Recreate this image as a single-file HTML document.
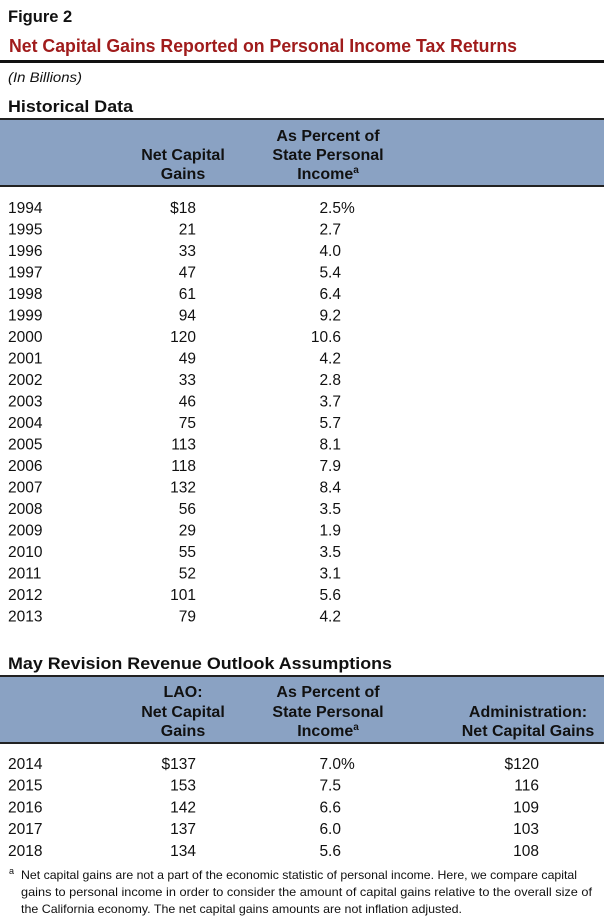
<!DOCTYPE html>
<html><head><meta charset="utf-8"><title>Net Capital Gains</title>
<style>
html,body{margin:0;padding:0;background:#fff;}
svg{display:block;font-family:"Liberation Sans",Arial,sans-serif;}
.row{font-size:15.5px;fill:#111;}
.hdr{font-size:16px;font-weight:bold;fill:#111;}
</style></head>
<body>
<svg id="fig" width="604" height="918" viewBox="0 0 604 918" xmlns="http://www.w3.org/2000/svg">
  <text x="8" y="22" font-size="16.5" font-weight="bold" fill="#111">Figure 2</text>
  <text x="9" y="52" font-size="18" font-weight="bold" fill="#a01c1c" textLength="508" lengthAdjust="spacingAndGlyphs">Net Capital Gains Reported on Personal Income Tax Returns</text>
  <rect x="0" y="60" width="604" height="3" fill="#111"/>
  <text x="8" y="82" font-size="14" font-style="italic" fill="#111" textLength="74" lengthAdjust="spacingAndGlyphs">(In Billions)</text>
  <text x="8" y="112" font-size="16.5" font-weight="bold" fill="#111" textLength="125" lengthAdjust="spacingAndGlyphs">Historical Data</text>

  <rect x="0" y="119" width="604" height="68" fill="#8aa2c3"/>
  <rect x="0" y="118" width="604" height="2" fill="#222"/>
  <rect x="0" y="185" width="604" height="2" fill="#222"/>
  <g class="hdr" text-anchor="middle">
    <text x="183" y="160">Net Capital</text>
    <text x="183" y="179">Gains</text>
    <text x="328" y="141">As Percent of</text>
    <text x="328" y="160">State Personal</text>
    <text x="328" y="179">Income<tspan font-size="10" dy="-6">a</tspan></text>
  </g>
  <g id="histRows" class="row"></g>

  <text x="8" y="669" font-size="16.5" font-weight="bold" fill="#111" textLength="384" lengthAdjust="spacingAndGlyphs">May Revision Revenue Outlook Assumptions</text>
  <rect x="0" y="676" width="604" height="68" fill="#8aa2c3"/>
  <rect x="0" y="675" width="604" height="2" fill="#222"/>
  <rect x="0" y="742" width="604" height="2" fill="#222"/>
  <g class="hdr" text-anchor="middle">
    <text x="183" y="697">LAO:</text>
    <text x="183" y="717">Net Capital</text>
    <text x="183" y="736">Gains</text>
    <text x="328" y="697">As Percent of</text>
    <text x="328" y="717">State Personal</text>
    <text x="328" y="736">Income<tspan font-size="10" dy="-6">a</tspan></text>
    <text x="528" y="717">Administration:</text>
    <text x="528" y="736">Net Capital Gains</text>
  </g>
  <g id="outRows" class="row"></g>

  <g font-size="12" fill="#111">
    <text x="9" y="874" font-size="9">a</text>
    <text x="21" y="879" textLength="556" lengthAdjust="spacingAndGlyphs">Net capital gains are not a part of the economic statistic of personal income. Here, we compare capital</text>
    <text x="21" y="896" textLength="571" lengthAdjust="spacingAndGlyphs">gains to personal income in order to consider the amount of capital gains relative to the overall size of</text>
    <text x="21" y="913" textLength="441" lengthAdjust="spacingAndGlyphs">the California economy. The net capital gains amounts are not inflation adjusted.</text>
  </g>
</svg>
<script>
const histYears = [1994,1995,1996,1997,1998,1999,2000,2001,2002,2003,2004,2005,2006,2007,2008,2009,2010,2011,2012,2013];
const histGains = [18,21,33,47,61,94,120,49,33,46,75,113,118,132,56,29,55,52,101,79];
const histPct = ["2.5","2.7","4.0","5.4","6.4","9.2","10.6","4.2","2.8","3.7","5.7","8.1","7.9","8.4","3.5","1.9","3.5","3.1","5.6","4.2"];
const outYears = [2014,2015,2016,2017,2018];
const outLao = [137,153,142,137,134];
const outPct = ["7.0","7.5","6.6","6.0","5.6"];
const outAdmin = [120,116,109,103,108];

const NS = "http://www.w3.org/2000/svg";
function txt(parent, x, y, s, anchor) {
  const t = document.createElementNS(NS, "text");
  t.setAttribute("x", x);
  t.setAttribute("y", y);
  if (anchor) t.setAttribute("text-anchor", anchor);
  t.textContent = s;
  parent.appendChild(t);
  return t;
}
const hist = document.getElementById("histRows");
histYears.forEach((yr, i) => {
  const base = 213 + i * 21.5;
  const a = txt(hist, 8, base, String(yr));
  
  
  const b = txt(hist, 196, base, (i === 0 ? "$" : "") + histGains[i], "end");
  
  
  const c = txt(hist, 341, base, histPct[i], "end");
  
  
  if (i === 0) {
    const p = txt(hist, 341, base, "%");
    
    
  }
});
const out = document.getElementById("outRows");
outYears.forEach((yr, i) => {
  const base = 769 + i * 21.7;
  const a = txt(out, 8, base, String(yr));
  
  
  const b = txt(out, 196, base, (i === 0 ? "$" : "") + outLao[i], "end");
  
  
  const c = txt(out, 341, base, outPct[i], "end");
  
  
  if (i === 0) {
    const p = txt(out, 341, base, "%");
    
    
  }
  const d = txt(out, 539, base, (i === 0 ? "$" : "") + outAdmin[i], "end");
  
  
});
</script>
</body></html>
